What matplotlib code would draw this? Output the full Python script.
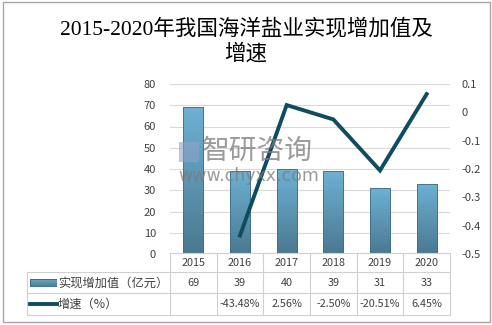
import numpy as np
import matplotlib
matplotlib.use('Agg')
import matplotlib.pyplot as plt
from matplotlib.colors import LinearSegmentedColormap
from matplotlib.patches import Rectangle
from matplotlib.lines import Line2D

plt.rcParams['font.family'] = ['Noto Sans CJK SC', 'DejaVu Sans']

# data
years = ['2015', '2016', '2017', '2018', '2019', '2020']
value_added = [69, 39, 40, 39, 31, 33]
growth = [None, -0.4348, 0.0256, -0.0250, -0.2051, 0.0645]
growth_labels = ['', '-43.48%', '2.56%', '-2.50%', '-20.51%', '6.45%']
bar_name = '实现增加值（亿元）'
line_name = '增速（%）'
title = '2015-2020年我国海洋盐业实现增加值及\n增速'

W, H = 492, 325
fig = plt.figure(figsize=(W / 100, H / 100), dpi=100)
fig.patch.set_facecolor('white')

def px(x, y):
    return x / W, 1 - y / H

# outer border
fig.patches.append(Rectangle(px(3, 322), 487 / W, 320 / H, transform=fig.transFigure,
                             fill=False, edgecolor='#a6a6a6', lw=1))

fig.text(0.5, px(0, 42)[1], title, ha='center', va='center', fontsize=15.5,
         linespacing=1.3, color='black', family=['Liberation Serif', 'Noto Sans CJK SC'])

ax = fig.add_axes([170 / W, 1 - 254 / H, 280 / W, 170 / H])
x = np.arange(len(years))
bar_cmap = LinearSegmentedColormap.from_list('bb', ['#4b7890', '#6db1d4'])
bars = ax.bar(x, value_added, width=0.43, color='none', edgecolor='#3f6d85', lw=0.6, zorder=3)
grad = np.linspace(0, 1, 256).reshape(-1, 1)
for b in bars:
    im = ax.imshow(grad, extent=[b.get_x(), b.get_x() + b.get_width(), 0, b.get_height()],
                   origin='lower', cmap=bar_cmap, aspect='auto', zorder=2)
    im.set_clip_path(b)
ax.set_xlim(-0.5, len(years) - 0.5)
ax.set_ylim(0, 80)
ax.set_yticks(range(0, 81, 10))
ax.yaxis.grid(True, color='#d9d9d9', lw=0.8)
ax.set_axisbelow(True)
ax.set_xticks([])
for s in ax.spines.values():
    s.set_visible(False)
ax.tick_params(axis='y', length=0, labelsize=8, colors='#404040', pad=10)

ax2 = ax.twinx()
gx = [i for i, g in enumerate(growth) if g is not None]
gy = [g for g in growth if g is not None]
ax2.plot(gx, gy, color='#0e4c60', lw=2.8, solid_joinstyle='miter', zorder=4)
ax2.set_ylim(-0.5, 0.1)
ax2.set_yticks([0.1, 0, -0.1, -0.2, -0.3, -0.4, -0.5])
ax2.set_yticklabels(['0.1', '0', '-0.1', '-0.2', '-0.3', '-0.4', '-0.5'])
for s in ax2.spines.values():
    s.set_visible(False)
ax2.tick_params(axis='y', length=0, labelsize=8, colors='#404040', pad=8)

# watermark
fig.text(*px(202, 151), '智研咨询', fontsize=20, color='#7a7a7a', alpha=0.75,
         ha='left', va='center', zorder=10)
fig.text(*px(178, 176), 'www.chyxx.com', fontsize=12.5, color='#7a7a7a', alpha=0.75,
         ha='left', va='center', zorder=10, family='DejaVu Sans')
fig.patches.append(Rectangle(px(179, 162), 20 / W, 20 / H, transform=fig.transFigure,
                             facecolor='#8fa3c8', alpha=0.6, edgecolor='none', zorder=10))

# data table
lc = '#d0d0d0'
col_x = [170 + i * 280 / len(years) for i in range(len(years) + 1)]
rows_y = [253, 272, 293, 315]

def hline(y, x0, x1):
    fig.add_artist(Line2D([x0 / W, x1 / W], [1 - y / H, 1 - y / H], color=lc, lw=0.8))

def vline(x0, y0, y1):
    fig.add_artist(Line2D([x0 / W, x0 / W], [1 - y0 / H, 1 - y1 / H], color=lc, lw=0.8))

hline(rows_y[0], 170, 450)
for yy in rows_y[1:]:
    hline(yy, 27, 450)
vline(27, rows_y[1], rows_y[3])
for cx in col_x:
    vline(cx, rows_y[0], rows_y[3])

for i, yr in enumerate(years):
    cx = (col_x[i] + col_x[i + 1]) / 2
    fig.text(*px(cx, 263), yr, ha='center', va='center', fontsize=7.8, color='#404040')
    fig.text(*px(cx, 283), str(value_added[i]), ha='center', va='center', fontsize=7.8, color='#404040')
    fig.text(*px(cx, 304), growth_labels[i], ha='center', va='center', fontsize=7.8, color='#404040')

# legend keys in table
key_ax = fig.add_axes([30 / W, 1 - 287 / H, 27 / W, 8 / H])
key_ax.imshow(grad, extent=[0, 1, 0, 1], origin='lower', cmap=bar_cmap, aspect='auto')
key_ax.add_patch(Rectangle((0, 0), 1, 1, fill=False, edgecolor='#3f6d85', lw=0.8))
key_ax.set_xlim(0, 1)
key_ax.set_ylim(0, 1)
key_ax.axis('off')
fig.add_artist(Line2D([30 / W, 57 / W], [1 - 304 / H, 1 - 304 / H], color='#0e4c60', lw=2.8))
fig.text(*px(58, 283), bar_name, ha='left', va='center', fontsize=8.8, color='#404040')
fig.text(*px(58, 304), line_name, ha='left', va='center', fontsize=8.8, color='#404040')

fig.savefig('out.png', dpi=100)
